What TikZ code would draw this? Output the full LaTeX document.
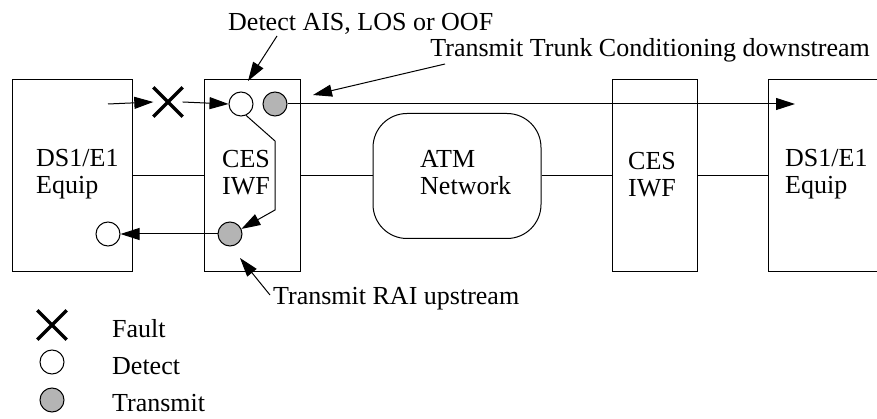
\documentclass[tikz,border=0pt]{standalone}
\usepackage{fontspec}
\setmainfont{Liberation Serif}
\usetikzlibrary{arrows.meta}
\definecolor{sigfill}{RGB}{180,180,180}
\begin{document}
\begin{tikzpicture}[x=1pt,y=-1pt,
  every node/.style={font=\fontsize{26}{27}\selectfont},
  box/.style={draw,line width=1pt,inner sep=0pt,rectangle},
  lbl/.style={inner sep=0pt},
  detc/.style={draw,line width=1pt,circle,fill=white,minimum size=24pt,inner sep=0pt},
  txc/.style={detc,fill=sigfill},
  xmk/.style={inner sep=0pt,minimum size=29pt},
  xstroke/.style={line width=3.5pt},
  wire/.style={line width=1pt},
  arr/.style={wire,-{Triangle[length=19pt,width=12pt]}}
]
\clip (0,0) rectangle (877,419);

% equipment and interworking boxes
\node[box,minimum width=120,minimum height=192] (eqL) at (72,176) {};
\node[box,minimum width=96,minimum height=192] (cesA) at (252,176) {};
\node[box,rounded corners=34pt,minimum width=168,minimum height=125] (atm) at (457,176) {};
\node[box,minimum width=85,minimum height=192] (cesB) at (654.5,176) {};
\node[box,minimum width=140,minimum height=192] (eqR) at (838,176) {};

% box texts
\node[lbl,anchor=base west] (tEqL) at (36,167) {\begin{tabular}[t]{@{}l@{}}DS1/E1\\Equip\end{tabular}};
\node[lbl,anchor=base] (tCesA) at (246,168) {\begin{tabular}[t]{@{}c@{}}CES\\IWF\end{tabular}};
\node[lbl,anchor=base west] (tAtm) at (420,168) {\begin{tabular}[t]{@{}l@{}}ATM\\Network\end{tabular}};
\node[lbl,anchor=base] (tCesB) at (652,170) {\begin{tabular}[t]{@{}c@{}}CES\\IWF\end{tabular}};
\node[lbl,anchor=base west] (tEqR) at (785,167) {\begin{tabular}[t]{@{}l@{}}DS1/E1\\Equip\end{tabular}};

% links between the boxes
\draw[wire] (eqL.east) -- (cesA.west);
\draw[wire] (cesA.east) -- (atm.west);
\draw[wire] (atm.east) -- (cesB.west);
\draw[wire] (cesB.east) -- (eqR.west);

% fault, detect and transmit points
\node[xmk] (fault) at (168,102) {};
\draw[xstroke] (fault.north west) -- (fault.south east) (fault.north east) -- (fault.south west);
\node[detc] (det) at (241,104) {};
\node[txc] (txA) at (275,104) {};
\node[txc] (txB) at (230,234) {};
\node[detc] (detL) at (108,234) {};

% signal paths
\coordinate (inL) at (108,104);
\coordinate (outR) at (795,104);
\coordinate (bendA) at (275,141);
\coordinate (bendB) at (275,210);
\draw[arr] (inL) -- (fault.west);
\draw[arr] (fault.east) -- (det.west);
\draw[arr] (txA.east) -- (outR);
\draw[arr] (det.-66) -- (bendA) -- (bendB) -- (txB.24);
\draw[arr] (txB.west) -- (detL.east);

% annotations
\node[lbl,anchor=base west] (lDet) at (228,31) {Detect AIS, LOS or OOF};
\node[lbl,anchor=base east] (lTrunk) at (870,57) {Transmit Trunk Conditioning downstream};
\node[lbl,anchor=base west] (lRai) at (273,305) {Transmit RAI upstream};
\coordinate (detTail) at (277,36);
\coordinate (detTip) at (248,81);
\coordinate (trTail) at (445,64);
\coordinate (trTip) at (313,95);
\coordinate (raiTail) at (270,295);
\coordinate (raiTip) at (240,258);
\draw[arr] (detTail) -- (detTip);
\draw[arr] (trTail) -- (trTip);
\draw[arr] (raiTail) -- (raiTip);

% legend
\node[xmk] (lgX) at (52,325) {};
\draw[xstroke] (lgX.north west) -- (lgX.south east) (lgX.north east) -- (lgX.south west);
\node[detc] (lgD) at (52,362) {};
\node[txc] (lgT) at (52,400) {};
\node[lbl,anchor=base west] (lgXt) at (112,337) {Fault};
\node[lbl,anchor=base west] (lgDt) at (112,374) {Detect};
\node[lbl,anchor=base west] (lgTt) at (112,411) {Transmit};
\end{tikzpicture}
\end{document}
